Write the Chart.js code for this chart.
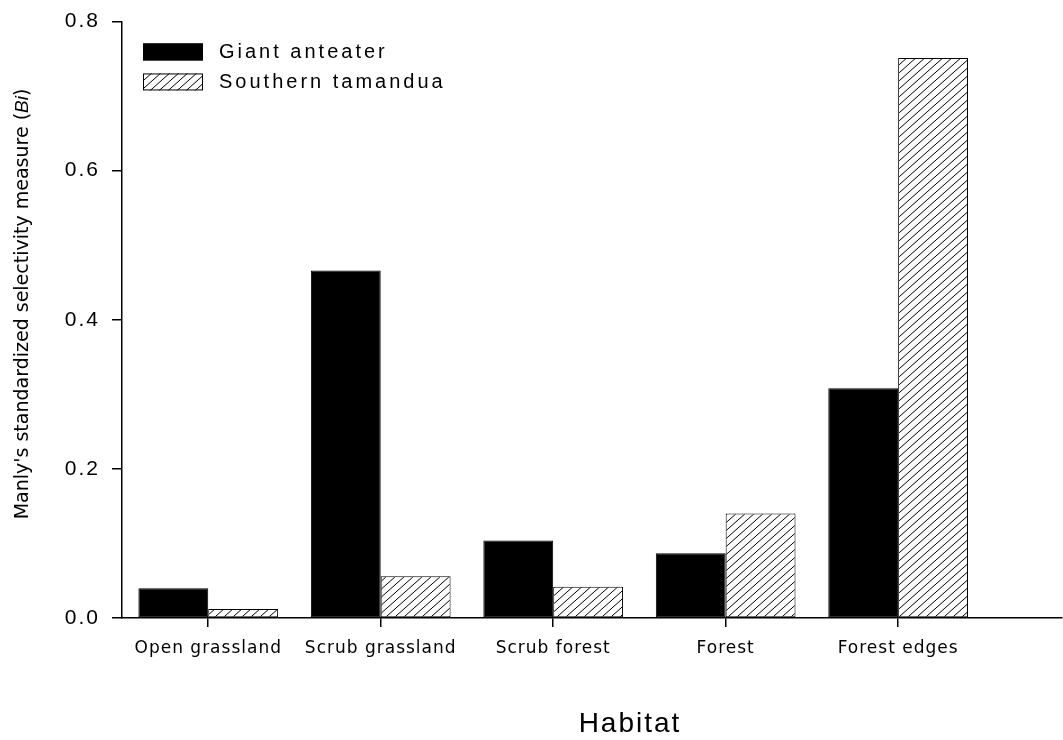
<!DOCTYPE html>
<html>
<head>
<meta charset="utf-8">
<title>Manly's selectivity by habitat</title>
<script src="https://cdn.jsdelivr.net/npm/chart.js@4.4.1/dist/chart.umd.min.js"></script>
<style>
  html, body { margin: 0; padding: 0; background: #ffffff; }
  #wrap { width: 1063px; height: 740px; }
  canvas { display: block; }
</style>
</head>
<body>
<div id="wrap"><canvas id="chart" width="1063" height="740"></canvas></div>
<script>
// Habitat categories along the x axis
const habitats = ['Open grassland', 'Scrub grassland', 'Scrub forest', 'Forest', 'Forest edges'];
// Series names
const species = ['Giant anteater', 'Southern tamandua'];
// Manly's standardized selectivity (Bi) per habitat
const giantAnteater = [0.040, 0.466, 0.104, 0.087, 0.308];
const southernTamandua = [0.012, 0.056, 0.042, 0.140, 0.751];
// Y axis tick values
const yTicks = [0.0, 0.2, 0.4, 0.6, 0.8];

// Axis titles
const xTitle = 'Habitat';
const yTitleParts = [
  { text: "Manly's standardized selectivity measure (", style: 'normal' },
  { text: 'Bi', style: 'italic' },
  { text: ')', style: 'normal' }
];

// Spacing between letters of the tick labels, per axis
const labelSpacing = { x: '1px', y: '2px' };

// Linear scale whose tick labels can be letter-spaced
class SpacedLinearScale extends Chart.LinearScale {
  drawLabels(area) {
    const ctx = this.ctx;
    ctx.save();
    ctx.letterSpacing = labelSpacing[this.id] || '0px';
    super.drawLabels(area);
    ctx.restore();
  }
}
SpacedLinearScale.id = 'spacedLinear';
SpacedLinearScale.defaults = Chart.LinearScale.defaults;
Chart.register(SpacedLinearScale);

// Diagonal hatch fill for the second series
function makeHatch() {
  const w = 9, h = 8;
  const tile = document.createElement('canvas');
  tile.width = w; tile.height = h;
  const t = tile.getContext('2d');
  t.fillStyle = '#ffffff';
  t.fillRect(0, 0, w, h);
  t.strokeStyle = '#000000';
  t.lineWidth = 1;
  t.beginPath();
  t.moveTo(-w, 2 * h); t.lineTo(2 * w, -h);
  t.moveTo(-2 * w, 2 * h); t.lineTo(w, -h);
  t.moveTo(0, 2 * h); t.lineTo(3 * w, -h);
  t.stroke();
  return t.createPattern(tile, 'repeat');
}
const hatch = makeHatch();

// Legend in the upper-left corner of the plot plus both axis titles
const annotations = {
  id: 'annotations',
  afterDraw(chart) {
    const { ctx, chartArea } = chart;
    ctx.save();

    // legend
    chart.data.datasets.forEach((ds, i) => {
      const bx = chartArea.left + 21;
      const by = chartArea.top + 22 + i * 30;
      ctx.fillStyle = ds.backgroundColor;
      ctx.fillRect(bx, by, 60, 17);
      ctx.strokeStyle = '#000';
      ctx.lineWidth = 1;
      ctx.strokeRect(bx + 0.5, by + 0.5, 59, 16);
      ctx.fillStyle = '#000';
      ctx.font = '20px "Liberation Sans", Arial, sans-serif';
      ctx.letterSpacing = '3px';
      ctx.textAlign = 'left';
      ctx.textBaseline = 'middle';
      ctx.fillText(ds.label, bx + 76, by + 9);
    });

    // x axis title
    ctx.letterSpacing = '2px';
    ctx.font = '28px "Liberation Sans", Arial, sans-serif';
    ctx.textAlign = 'center';
    ctx.textBaseline = 'middle';
    ctx.fillStyle = '#000';
    ctx.fillText(xTitle, 630, 724);

    // y axis title, rotated, with the italic symbol
    ctx.letterSpacing = '0px';
    ctx.translate(23, 304);
    ctx.rotate(-Math.PI / 2);
    const fonts = {
      normal: '19px "DejaVu Sans", Verdana, sans-serif',
      italic: 'italic 19px "Liberation Sans", Arial, sans-serif'
    };
    let total = 0;
    yTitleParts.forEach(p => { ctx.font = fonts[p.style]; p.w = ctx.measureText(p.text).width; total += p.w; });
    let x = -total / 2;
    ctx.textAlign = 'left';
    yTitleParts.forEach(p => { ctx.font = fonts[p.style]; ctx.fillText(p.text, x, 0); x += p.w; });

    ctx.restore();
  }
};

new Chart(document.getElementById('chart'), {
  type: 'bar',
  data: {
    datasets: [
      {
        label: species[0],
        data: giantAnteater.map((v, i) => ({ x: i + 1, y: v })),
        backgroundColor: '#000000',
        borderColor: '#000000',
        borderWidth: 1,
        borderSkipped: false,
        categoryPercentage: 0.81,
        barPercentage: 1.0
      },
      {
        label: species[1],
        data: southernTamandua.map((v, i) => ({ x: i + 1, y: v })),
        backgroundColor: hatch,
        borderColor: '#000000',
        borderWidth: 1,
        borderSkipped: false,
        categoryPercentage: 0.81,
        barPercentage: 1.0
      }
    ]
  },
  options: {
    responsive: false,
    animation: false,
    devicePixelRatio: 1,
    layout: { padding: { top: 21, right: 1, left: 0, bottom: 0 } },
    plugins: { legend: { display: false }, tooltip: { enabled: false }, title: { display: false } },
    scales: {
      x: {
        type: 'spacedLinear',
        offset: false,
        min: 0.5,
        max: 5.95,
        afterBuildTicks: s => { s.ticks = habitats.map((_, i) => ({ value: i + 1 })); },
        afterFit: s => { s.height = 122; },
        ticks: {
          callback: v => habitats[v - 1] ?? '',
          autoSkip: false,
          maxRotation: 0,
          padding: 11,
          color: '#000',
          font: { family: '"DejaVu Sans", Verdana, sans-serif', size: 17 }
        },
        grid: { offset: false, drawOnChartArea: false, drawTicks: true, tickLength: 9, color: '#000', lineWidth: 1.5 },
        border: { color: '#000', width: 1.5 }
      },
      y: {
        type: 'spacedLinear',
        min: 0,
        max: 0.8,
        afterBuildTicks: s => { s.ticks = yTicks.map(v => ({ value: v })); },
        afterFit: s => { s.width = 122; },
        ticks: {
          callback: v => Number(v).toFixed(1),
          padding: 12,
          color: '#000',
          font: { family: '"Liberation Sans", Arial, sans-serif', size: 21, lineHeight: 0.9 }
        },
        grid: { drawOnChartArea: false, drawTicks: true, tickLength: 10, color: '#000', lineWidth: 1.5 },
        border: { color: '#000', width: 1.5 }
      }
    }
  },
  plugins: [annotations]
});
</script>
</body>
</html>
